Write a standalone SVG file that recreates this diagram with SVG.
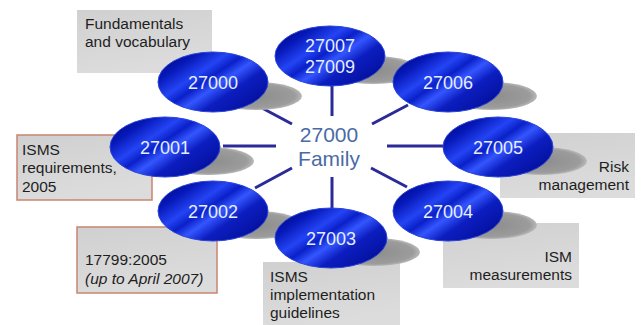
<svg xmlns="http://www.w3.org/2000/svg" width="643" height="325" viewBox="0 0 643 325">
<defs>
<linearGradient id="blue" x1="0" y1="0.1" x2="1" y2="0.9">
<stop offset="0" stop-color="#00087a"/>
<stop offset="0.18" stop-color="#0618b8"/>
<stop offset="0.35" stop-color="#2444f4"/>
<stop offset="0.45" stop-color="#0a20c8"/>
<stop offset="0.55" stop-color="#3456ff"/>
<stop offset="0.68" stop-color="#0c1ec0"/>
<stop offset="0.85" stop-color="#0614a8"/>
<stop offset="1" stop-color="#00066a"/>
</linearGradient>
<radialGradient id="shadow" cx="0.5" cy="0.5" r="0.5">
<stop offset="0" stop-color="#8c8c8c"/>
<stop offset="0.85" stop-color="#9c9c9c"/>
<stop offset="1" stop-color="#b8b8b8"/>
</radialGradient>
<linearGradient id="box" x1="0" y1="0" x2="0.3" y2="1">
<stop offset="0" stop-color="#d0d0d0"/>
<stop offset="1" stop-color="#dcdcdc"/>
</linearGradient>
<style>
.box{fill:url(#box);}
.red{stroke:#c98470;stroke-width:1.5;}
.lbl{font-family:"Liberation Sans",Arial,sans-serif;font-size:15.5px;fill:#1e1e1e;}
.end{text-anchor:end;}
.ell{fill:url(#blue);stroke:#2a44d8;stroke-width:1;}
.sh{fill:url(#shadow);}
.num{font-family:"Liberation Sans",Arial,sans-serif;font-size:18px;fill:#e6eeff;text-anchor:middle;}
.ctr{font-family:"Liberation Sans",Arial,sans-serif;font-size:21px;fill:#4a6aa6;text-anchor:middle;}
.con{stroke:#2a2a98;stroke-width:3;fill:none;}
</style>
</defs>
<rect width="643" height="325" fill="#ffffff"/>

<g id="label-27000">
<rect class="box" x="77" y="10" width="135" height="63"/>
<text class="lbl" x="85" y="29">Fundamentals</text>
<text class="lbl" x="85" y="47">and vocabulary</text>
</g>
<g id="label-27001">
<rect class="box red" x="17" y="135" width="135" height="65"/>
<text class="lbl" x="22" y="155">ISMS</text>
<text class="lbl" x="22" y="173">requirements,</text>
<text class="lbl" x="22" y="192">2005</text>
</g>
<g id="label-27002">
<rect class="box red" x="77" y="227" width="140" height="66"/>
<text class="lbl" x="85" y="265">17799:2005</text>
<text class="lbl" x="85" y="284" font-style="italic">(up to April 2007)</text>
</g>
<g id="label-27003">
<rect class="box" x="263" y="262" width="137" height="63"/>
<text class="lbl" x="270" y="282">ISMS</text>
<text class="lbl" x="270" y="300">implementation</text>
<text class="lbl" x="270" y="318">guidelines</text>
</g>
<g id="label-27005">
<rect class="box" x="500" y="133" width="135" height="65"/>
<text class="lbl end" x="629" y="172">Risk</text>
<text class="lbl end" x="629" y="190">management</text>
</g>
<g id="label-27004">
<rect class="box" x="443" y="223" width="136" height="65"/>
<text class="lbl end" x="572" y="262">ISM</text>
<text class="lbl end" x="572" y="280">measurements</text>
</g>

<g id="connectors">
<line class="con" x1="332" y1="85" x2="332" y2="116"/>
<line class="con" x1="262" y1="108" x2="292" y2="124"/>
<line class="con" x1="223" y1="146" x2="276" y2="146"/>
<line class="con" x1="372" y1="124" x2="408" y2="105"/>
<line class="con" x1="387" y1="146" x2="445" y2="146"/>
<line class="con" x1="292" y1="168" x2="255" y2="188"/>
<line class="con" x1="371" y1="168" x2="407" y2="187"/>
<line class="con" x1="332" y1="177" x2="332" y2="209"/>
</g>

<g id="shadows">
<ellipse class="sh" cx="256" cy="96" rx="46" ry="14"/>
<ellipse class="sh" cx="373" cy="70" rx="46" ry="14"/>
<ellipse class="sh" cx="491" cy="96" rx="46" ry="14"/>
<ellipse class="sh" cx="208" cy="161" rx="46" ry="14"/>
<ellipse class="sh" cx="541" cy="161" rx="46" ry="14"/>
<ellipse class="sh" cx="256" cy="225" rx="46" ry="14"/>
<ellipse class="sh" cx="491" cy="225" rx="46" ry="14"/>
<ellipse class="sh" cx="374" cy="252" rx="46" ry="14"/>
</g>

<g id="center">
<text class="ctr" x="329" y="142">27000</text>
<text class="ctr" x="329" y="166">Family</text>
</g>

<g id="node-27000">
<ellipse class="ell" cx="213" cy="82" rx="55" ry="30"/>
<text class="num" x="213" y="89">27000</text>
</g>
<g id="node-27007">
<ellipse class="ell" cx="330" cy="56" rx="55" ry="30"/>
<text class="num" x="330" y="52">27007</text>
<text class="num" x="330" y="73">27009</text>
</g>
<g id="node-27006">
<ellipse class="ell" cx="448" cy="82" rx="55" ry="30"/>
<text class="num" x="448" y="89">27006</text>
</g>
<g id="node-27001">
<ellipse class="ell" cx="165" cy="147" rx="55" ry="30"/>
<text class="num" x="165" y="154">27001</text>
</g>
<g id="node-27005">
<ellipse class="ell" cx="498" cy="147" rx="55" ry="30"/>
<text class="num" x="498" y="154">27005</text>
</g>
<g id="node-27002">
<ellipse class="ell" cx="213" cy="211" rx="55" ry="30"/>
<text class="num" x="213" y="218">27002</text>
</g>
<g id="node-27004">
<ellipse class="ell" cx="448" cy="211" rx="55" ry="30"/>
<text class="num" x="448" y="218">27004</text>
</g>
<g id="node-27003">
<ellipse class="ell" cx="331" cy="238" rx="56" ry="30"/>
<text class="num" x="331" y="245">27003</text>
</g>
</svg>
